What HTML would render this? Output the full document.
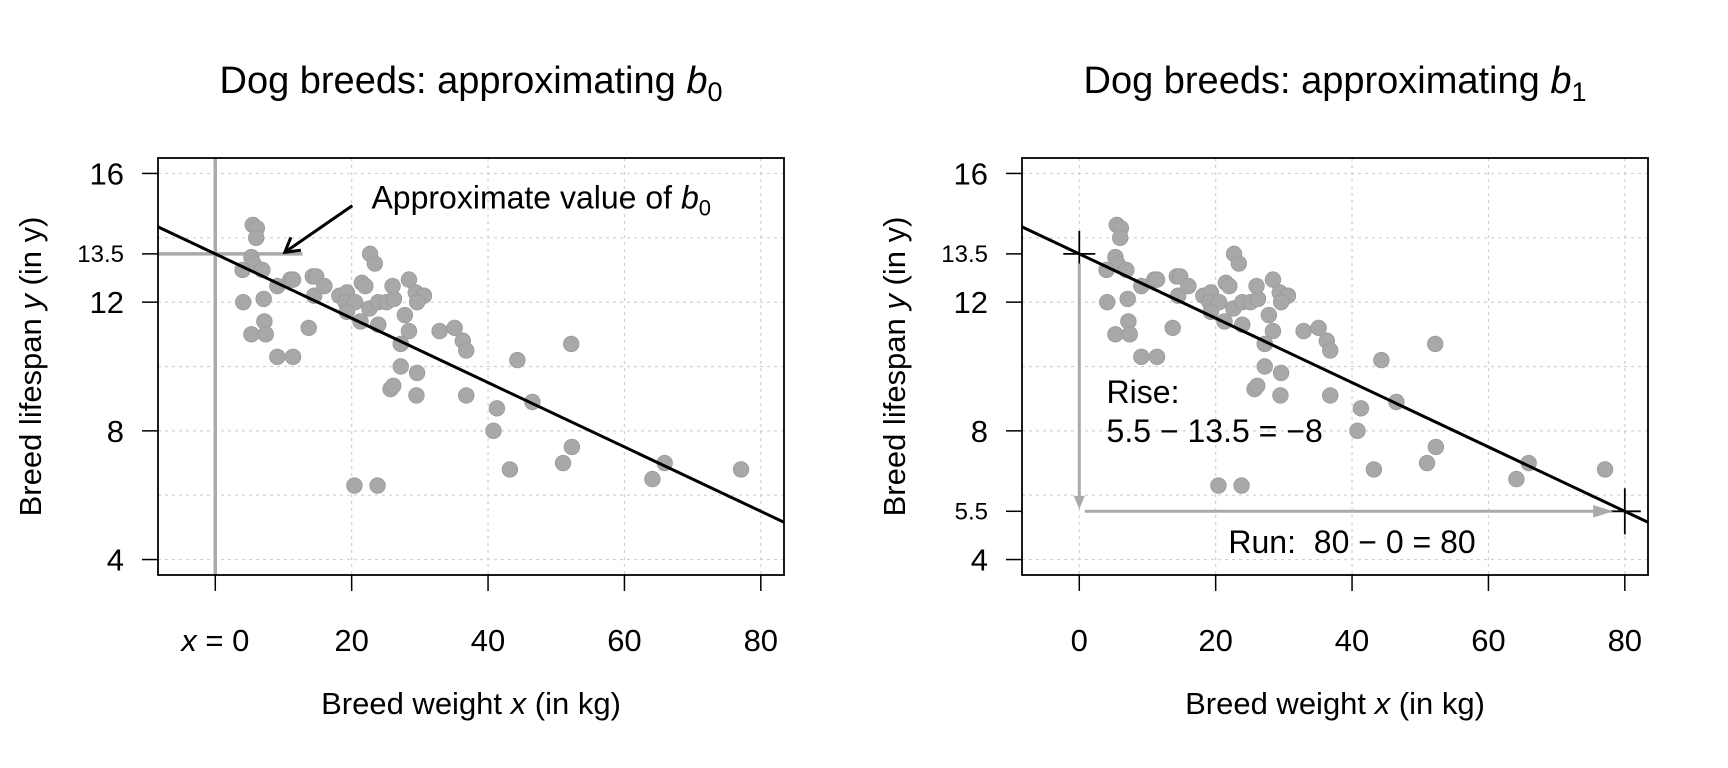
<!DOCTYPE html>
<html><head><meta charset="utf-8"><style>
body{margin:0;background:#fff}
svg{display:block;font-family:"Liberation Sans",sans-serif}
</style></head><body>
<svg id="c" width="1728" height="768" viewBox="0 0 1728 768"></svg>
<script>
const weights=[5.5,6.1,6.0,5.3,5.6,4.0,6.9,4.1,7.1,7.2,5.3,7.4,9.1,11.0,11.4,9.1,11.4,13.7,14.3,14.8,14.5,16.0,18.2,19.3,19.1,20.5,19.3,21.3,21.5,22.0,22.7,23.4,22.6,23.9,25.1,26.2,23.9,26.0,28.4,29.4,30.6,29.6,27.8,28.4,27.2,27.2,29.6,25.7,26.1,29.5,32.9,35.1,36.3,36.8,36.8,41.3,40.8,44.3,46.5,43.2,52.2,52.3,51.0,64.1,65.9,77.1,20.4,23.8];
const lifespans=[14.4,14.3,14.0,13.4,13.2,13.0,13.0,12.0,12.1,11.4,11.0,11.0,12.5,12.7,12.7,10.3,10.3,11.2,12.8,12.8,12.2,12.5,12.2,12.3,12.0,12.0,11.7,11.4,12.6,12.5,13.5,13.2,11.8,12.0,12.0,12.1,11.3,12.5,12.7,12.3,12.2,12.0,11.6,11.1,10.7,10.0,9.8,9.3,9.4,9.1,11.1,11.2,10.8,10.5,9.1,8.7,8.0,10.2,8.9,6.8,10.7,7.5,7.0,6.5,7.0,6.8,6.3,6.3];
const xTicks=[0,20,40,60,80];
const yGrid=[4,6,8,10,12,14,16];
const lineB0=13.5, lineB1=-0.1;
const NS="http://www.w3.org/2000/svg";
const svg=document.getElementById('c');
function el(tag,attrs,parent,text){const e=document.createElementNS(NS,tag);for(const k in attrs)e.setAttribute(k,attrs[k]);if(text!==undefined)e.textContent=text;(parent||svg).appendChild(e);return e;}
const XMIN=-8.4,XMAX=83.4,YMIN=3.52,YMAX=16.48;
function panel(L,R,which,title){
  const T=158,B=575;
  const g=el('g',{});
  
  
  const sx=v=>L+(v-XMIN)/(XMAX-XMIN)*(R-L);
  const sy=v=>B-(v-YMIN)/(YMAX-YMIN)*(B-T);
  xTicks.forEach(v=>{const l=el('line',{x1:sx(v),x2:sx(v),y1:T,y2:B,stroke:'#d0d0d0','stroke-dasharray':'3,4','stroke-width':1.2},g);});
  yGrid.forEach(v=>{const l=el('line',{x1:L,x2:R,y1:sy(v),y2:sy(v),stroke:'#d0d0d0','stroke-dasharray':'3,4','stroke-width':1.2},g);});
  if(which===0){
    el('line',{x1:sx(0),x2:sx(0),y1:T,y2:B,stroke:'#aaa','stroke-width':3.5},g);
    el('line',{x1:L,x2:sx(12.8),y1:sy(13.5),y2:sy(13.5),stroke:'#aaa','stroke-width':3.5},g);
  }
  weights.forEach((w,i)=>{const c=el('circle',{cx:sx(w),cy:sy(lifespans[i]),r:7.8,fill:'#a8a8a8',stroke:'#9a9a9a','stroke-width':0.8},g);
    
    });
  const rl=el('line',{x1:sx(XMIN),y1:sy(lineB0+lineB1*XMIN),x2:sx(XMAX),y2:sy(lineB0+lineB1*XMAX),stroke:'#000','stroke-width':3},g);
  
  el('rect',{x:L,y:T,width:R-L,height:B-T,fill:'none',stroke:'#000','stroke-width':1.8},g);
  xTicks.forEach(v=>{el('line',{x1:sx(v),x2:sx(v),y1:B,y2:B+16,stroke:'#000','stroke-width':1.5},g);
    const t=el('text',{x:sx(v),y:651,'text-anchor':'middle','font-size':31},g);
    if(which===0&&v===0){el('tspan',{'font-style':'italic'},t,'x');el('tspan',{},t,' = 0');}else t.textContent=v;
    });
  const yt=which===0?[16,13.5,12,8,4]:[16,13.5,12,8,5.5,4];
  yt.forEach(v=>{el('line',{x1:L-16,x2:L,y1:sy(v),y2:sy(v),stroke:'#000','stroke-width':1.5},g);
    const small=(v%1!==0);
    const t=el('text',{x:L-34,y:sy(v)+(small?8:11),'text-anchor':'end','font-size':small?24:31},g,String(v));
    });
  const xt=el('text',{x:(L+R)/2,y:714,'text-anchor':'middle','font-size':31},g);
  el('tspan',{},xt,'Breed weight ');el('tspan',{'font-style':'italic'},xt,'x');el('tspan',{},xt,' (in kg)');
  
  const cy=(T+B)/2, cx=L-128;
  const ytt=el('text',{x:cx,y:cy+11,'text-anchor':'middle','font-size':31,transform:`rotate(-90 ${cx} ${cy})`},g);
  el('tspan',{},ytt,'Breed lifespan ');el('tspan',{'font-style':'italic'},ytt,'y');el('tspan',{},ytt,' (in y)');
  
  const tt=el('text',{x:(L+R)/2,y:93,'text-anchor':'middle','font-size':38},g);
  el('tspan',{},tt,title);el('tspan',{'font-style':'italic'},tt,'b');el('tspan',{'font-size':27,dy:8},tt,which===0?'0':'1');
  
  if(which===0){
    const a=el('line',{x1:sx(20.1),y1:sy(15.0),x2:sx(10.2),y2:sy(13.55),stroke:'#000','stroke-width':3},g);
    
    const tx=sx(10.2),ty=sy(13.55);
    el('path',{d:`M${tx+16} ${ty-2} L${tx} ${ty} L${tx+6} ${ty-15}`,fill:'none',stroke:'#000','stroke-width':3},g);
    const at=el('text',{x:sx(22.9),y:sy(15.26)+11,'font-size':32},g);
    el('tspan',{},at,'Approximate value of ');el('tspan',{'font-style':'italic'},at,'b');el('tspan',{'font-size':22,dy:7},at,'0');
    
  } else {
    [[0,13.5],[80,5.5]].forEach(p=>{const X=sx(p[0]),Y=sy(p[1]);
      el('line',{x1:X-16,x2:X+16,y1:Y,y2:Y,stroke:'#000','stroke-width':1.8},g);
      el('line',{x1:X,x2:X,y1:Y-23,y2:Y+23,stroke:'#000','stroke-width':1.8},g);});
    const x0=sx(0);
    el('line',{x1:x0,x2:x0,y1:sy(13.2),y2:sy(5.75),stroke:'#aaa','stroke-width':3},g);
    el('path',{d:`M${x0-4} ${sy(5.95)} L${x0} ${sy(5.65)} L${x0+4} ${sy(5.95)} Z`,fill:'#aaa',stroke:'#aaa','stroke-width':2},g);
    el('line',{x1:sx(0.8),x2:sx(77),y1:sy(5.5),y2:sy(5.5),stroke:'#aaa','stroke-width':3},g);
    el('path',{d:`M${sx(75.5)} ${sy(5.5)-5} L${sx(77.8)} ${sy(5.5)} L${sx(75.5)} ${sy(5.5)+5} Z`,fill:'#aaa',stroke:'#aaa','stroke-width':2},g);
    const r1=el('text',{x:sx(4),y:sy(9.2)+11,'font-size':32},g,'Rise:');
    const r2=el('text',{x:sx(4),y:sy(8.0)+11,'font-size':32},g,'5.5 \u2212 13.5 = \u22128');
    const r3=el('text',{x:sx(40),y:sy(4.55)+11,'text-anchor':'middle','font-size':32},g,'Run:\u00a0 80 \u2212 0 = 80');
  }
}
panel(158,784,0,'Dog breeds: approximating ');
panel(1022,1648,1,'Dog breeds: approximating ');
</script>
</body></html>
